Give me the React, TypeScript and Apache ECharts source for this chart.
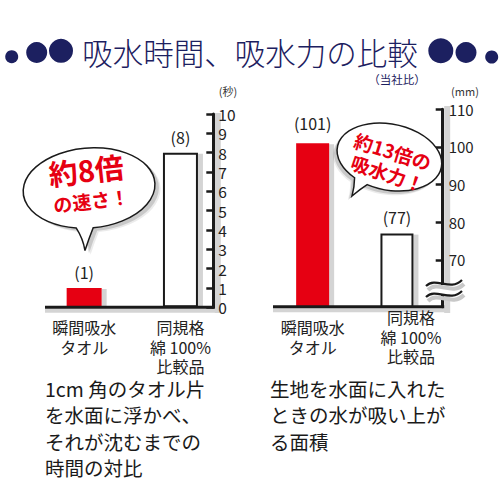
import React, { useEffect, useRef } from "react";
import * as echarts from "echarts";

const categories = ["瞬間吸水\nタオル", "同規格\n綿 100%\n比較品"];
const timeValues = [1, 8];
const absorbValues = [101, 77];
const timeAxis = { min: 0, max: 10, interval: 1 };
const absorbAxis = { min: 57.6, max: 110 };
const absorbTicks = [70, 80, 90, 100, 110];
const barColors = ["#e60012", "#ffffff"];
const titleText = "吸水時間、吸水力の比較";
const subtitleText = "（当社比）";
const timeUnit = "(秒)";
const absorbUnit = "(mm)";
const timeBubble = ["約8倍", "の速さ！"];
const absorbBubble = ["約13倍の", "吸水力！"];
const timeNote = ["1cm 角のタオル片", "を水面に浮かべ、", "それが沈むまでの", "時間の対比"];
const absorbNote = ["生地を水面に入れた", "ときの水が吸い上が", "る面積"];

const RED = "#e60012";
const NAVY = "#1c2060";
const INK = "#1a1a1a";
const SHADE = "#d4d4d4";
const FONT = '"Noto Sans CJK JP", "Noto Sans", sans-serif';

echarts.graphic.registerShape(
  "bubbleL",
  echarts.graphic.extendPath("M 1 40 A 66 40 0 1 0 -16 38.8 Q -10 50 -9 62 Q -4 50 1 40 Z", {})
);
echarts.graphic.registerShape(
  "bubbleR",
  echarts.graphic.extendPath("M -16.1 30.4 A 53 33 0 1 0 -29.8 26.2 Q -28 36 -28.7 44.6 Q -22 36 -16.1 30.4 Z", {})
);

const barData = (values: number[], labelDistances: number[]) =>
  values.map((v, i) => ({
    value: v,
    itemStyle: {
      color: barColors[i],
      borderColor: i === 0 ? barColors[0] : INK,
      borderWidth: i === 0 ? 0 : 2,
    },
    label: { distance: labelDistances[i] },
  }));

const axisLineStyle = { color: INK, width: 3 };

const barLabel = {
  show: true,
  position: "top" as const,
  distance: 8,
  formatter: "({c})",
  fontSize: 16,
  color: "#222",
  fontFamily: FONT,
};

const shadowSeries = (axisIndex: number, values: number[], barWidth: number) => ({
  type: "custom",
  xAxisIndex: axisIndex,
  yAxisIndex: axisIndex,
  z: 1,
  silent: true,
  data: values.map((v, i) => [i, v]),
  renderItem: (params: any, api: any) => {
    const top = api.coord([api.value(0), api.value(1)]);
    const cs = params.coordSys;
    const bottom = cs.y + cs.height;
    return {
      type: "rect",
      shape: { x: top[0] + barWidth / 2, y: top[1] + 1, width: 5, height: bottom - top[1] - 1 },
      style: { fill: SHADE },
    };
  },
});

const bubbleShadows = (type: string, x: number, y: number, rotation: number, dx: number, dy: number) => [
  { type, z: 18, x: x + dx * 1.4, y: y + dy * 1.4, rotation, style: { fill: "rgba(0,0,0,0.08)" } },
  { type, z: 19, x: x + dx, y: y + dy, rotation, style: { fill: "rgba(0,0,0,0.14)" } },
];

export default function App() {
  const ref = useRef<HTMLDivElement>(null);
  useEffect(() => {
    if (!ref.current) return;
    const chart = echarts.init(ref.current, undefined, { renderer: "svg" });
    const dots = [
      { cx: 11.7, cy: 56.7, r: 6.5 },
      { cx: 36.7, cy: 52.5, r: 10.5 },
      { cx: 61, cy: 50.8, r: 12 },
      { cx: 440.8, cy: 50.8, r: 12.5 },
      { cx: 466, cy: 52.5, r: 10.5 },
      { cx: 491.7, cy: 57, r: 6.5 },
    ];
    chart.setOption({
      animation: false,
      backgroundColor: "#ffffff",
      textStyle: { fontFamily: FONT },
      grid: [
        { left: 36, top: 114, width: 192.6, height: 193.3 },
        { left: 270.5, top: 109.3, width: 168.6, height: 197.4 },
      ],
      xAxis: [
        {
          type: "category",
          gridIndex: 0,
          data: categories,
          axisLine: { show: false },
          axisTick: { show: false },
          axisLabel: { interval: 0, margin: 10, fontSize: 16, lineHeight: 19.5, color: "#222", fontFamily: FONT },
        },
        {
          type: "category",
          gridIndex: 1,
          data: categories,
          axisLine: { show: false },
          axisTick: { show: false },
          axisLabel: {
            interval: 0,
            margin: 1,
            formatter: (value: string, index: number) => {
              const key = index === 0 ? "a" : "b";
              const lines = value.split("\n").map((l) => `{${key}|${l}}`).join("\n");
              return index === 0 ? `{sp| }\n${lines}` : lines;
            },
            rich: {
              sp: { fontSize: 1, lineHeight: 10 },
              a: { fontSize: 16, lineHeight: 19.5, color: "#222", fontFamily: FONT },
              b: { fontSize: 16, lineHeight: 19.5, color: "#222", fontFamily: FONT, padding: [0, 0, 0, 28] },
            },
          },
        },
      ],
      yAxis: [
        {
          type: "value",
          gridIndex: 0,
          position: "right",
          offset: -15.3,
          min: timeAxis.min,
          max: timeAxis.max,
          interval: timeAxis.interval,
          axisLine: { show: true, lineStyle: axisLineStyle },
          axisTick: { show: true, inside: true, length: 7, lineStyle: { color: INK, width: 2.5 } },
          axisLabel: { show: true, margin: 5, fontSize: 15.5, color: "#222", fontFamily: FONT },
          splitLine: { show: false },
        },
        {
          type: "value",
          gridIndex: 1,
          position: "right",
          offset: 3.6,
          min: absorbAxis.min,
          max: absorbAxis.max,
          axisLine: { show: true, lineStyle: axisLineStyle },
          axisTick: { show: true, inside: true, length: 7, customValues: absorbTicks, lineStyle: { color: INK, width: 2.5 } },
          axisLabel: { show: true, margin: 6, fontSize: 15, color: "#222", fontFamily: FONT, customValues: absorbTicks },
          splitLine: { show: false },
        },
      ],
      series: [
        shadowSeries(0, timeValues, 35),
        shadowSeries(1, absorbValues, 33),
        {
          type: "bar",
          xAxisIndex: 0,
          yAxisIndex: 0,
          barWidth: 35,
          z: 3,
          data: barData(timeValues, [8, 8]),
          label: barLabel,
        },
        {
          type: "bar",
          xAxisIndex: 1,
          yAxisIndex: 1,
          barWidth: 33,
          z: 3,
          data: barData(absorbValues, [12, 9]),
          label: barLabel,
        },
      ],
      graphic: [
        ...dots.map((d) => ({ type: "circle", shape: { cx: d.cx, cy: d.cy, r: d.r }, style: { fill: NAVY } })),
        {
          type: "text",
          x: 250,
          y: 51.5,
          style: { text: titleText, fill: NAVY, font: `300 30.5px ${FONT}`, lineHeight: 30, align: "center", verticalAlign: "middle" },
        },
        {
          type: "text",
          x: 397,
          y: 78.5,
          style: { text: subtitleText, fill: NAVY, font: `11.5px ${FONT}`, lineHeight: 12, align: "center", verticalAlign: "middle" },
        },
        {
          type: "text",
          x: 228,
          y: 91,
          style: { text: timeUnit, fill: "#333", font: `11px ${FONT}`, align: "center", verticalAlign: "middle" },
        },
        {
          type: "text",
          x: 465,
          y: 91,
          style: { text: absorbUnit, fill: "#333", font: `11px ${FONT}`, align: "center", verticalAlign: "middle" },
        },
        // axis shading bands
        { type: "rect", shape: { x: 214.8, y: 113, width: 6, height: 200 }, style: { fill: SHADE } },
        { type: "rect", shape: { x: 45, y: 308.8, width: 176, height: 4 }, style: { fill: SHADE } },
        { type: "rect", shape: { x: 444.2, y: 106, width: 6, height: 207 }, style: { fill: SHADE } },
        { type: "rect", shape: { x: 273, y: 308.2, width: 177, height: 4 }, style: { fill: SHADE } },
        // baselines
        {
          type: "line",
          z: 5,
          shape: { x1: 45, y1: 307.3, x2: 214.8, y2: 307.3 },
          style: { stroke: INK, lineWidth: 3 },
        },
        {
          type: "line",
          z: 5,
          shape: { x1: 273, y1: 306.7, x2: 444.2, y2: 306.7 },
          style: { stroke: INK, lineWidth: 3 },
        },
        // axis break
        {
          type: "rect",
          z: 100,
          shape: { x: 436, y: 285, width: 18, height: 9 },
          style: { fill: "#ffffff" },
        },
        {
          type: "bezierCurve",
          z: 100,
          shape: { x1: 428, y1: 290, cpx1: 438, cpy1: 280, cpx2: 452, cpy2: 296, x2: 464, y2: 284 },
          style: { stroke: "#c8c8c8", lineWidth: 4, fill: null },
        },
        {
          type: "bezierCurve",
          z: 100,
          shape: { x1: 428, y1: 301, cpx1: 438, cpy1: 291, cpx2: 452, cpy2: 307, x2: 464, y2: 295 },
          style: { stroke: "#c8c8c8", lineWidth: 4, fill: null },
        },
        {
          type: "bezierCurve",
          z: 101,
          shape: { x1: 426, y1: 286, cpx1: 436, cpy1: 276, cpx2: 450, cpy2: 292, x2: 462, y2: 280 },
          style: { stroke: INK, lineWidth: 2.2, fill: null },
        },
        {
          type: "bezierCurve",
          z: 101,
          shape: { x1: 426, y1: 297, cpx1: 436, cpy1: 287, cpx2: 450, cpy2: 303, x2: 462, y2: 291 },
          style: { stroke: INK, lineWidth: 2.2, fill: null },
        },
        // left bubble
        ...bubbleShadows("bubbleL", 89, 188, 0.08, 4, 3),
        {
          type: "bubbleL",
          z: 20,
          x: 89,
          y: 188,
          rotation: 0.08,
          style: { fill: "#ffffff", stroke: INK, lineWidth: 1.5 },
        },
        {
          type: "text",
          z: 21,
          x: 86,
          y: 169,
          rotation: 0.11,
          style: { text: timeBubble[0], fill: RED, font: `bold 29px ${FONT}`, align: "center", verticalAlign: "middle" },
        },
        {
          type: "text",
          z: 21,
          x: 91,
          y: 200,
          rotation: 0.12,
          style: { text: timeBubble[1], fill: RED, font: `bold 19px ${FONT}`, align: "center", verticalAlign: "middle" },
        },
        // right bubble
        ...bubbleShadows("bubbleR", 389, 158, -0.2, -3, 3),
        {
          type: "bubbleR",
          z: 20,
          x: 389,
          y: 158,
          rotation: -0.2,
          style: { fill: "#ffffff", stroke: INK, lineWidth: 1.5 },
        },
        {
          type: "text",
          z: 21,
          x: 393,
          y: 151,
          rotation: -0.3,
          style: { text: absorbBubble[0], fill: RED, font: `bold 19px ${FONT}`, align: "center", verticalAlign: "middle" },
        },
        {
          type: "text",
          z: 21,
          x: 388,
          y: 173,
          rotation: -0.32,
          style: { text: absorbBubble[1], fill: RED, font: `bold 19px ${FONT}`, align: "center", verticalAlign: "middle" },
        },
        // notes
        {
          type: "text",
          x: 45,
          y: 375,
          style: { text: timeNote.join("\n"), fill: INK, font: `19.5px ${FONT}`, lineHeight: 26.4, align: "left", verticalAlign: "top" },
        },
        {
          type: "text",
          x: 270,
          y: 375,
          style: { text: absorbNote.join("\n"), fill: INK, font: `19.5px ${FONT}`, lineHeight: 26.6, align: "left", verticalAlign: "top" },
        },
      ],
    });
    return () => chart.dispose();
  }, []);
  return (
    <div
      ref={ref}
      style={{ position: "absolute", left: 0, top: 0, width: 500, height: 500, background: "#fff" }}
    />
  );
}
